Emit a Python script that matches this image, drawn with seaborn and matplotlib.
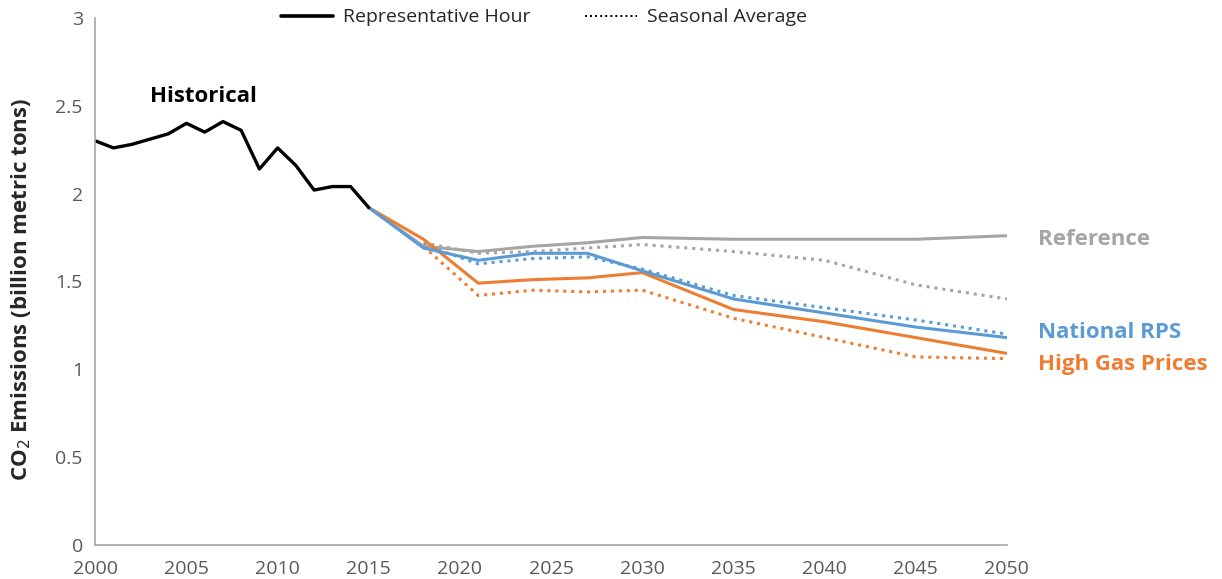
import matplotlib.pyplot as plt
import seaborn as sns
from matplotlib.lines import Line2D

sns.set_style("white")
plt.rcParams['font.family'] = ['Open Sans', 'DejaVu Sans']

# historical emissions (billion metric tons)
hist_years = list(range(2000, 2016))
hist_vals = [2.30, 2.26, 2.28, 2.31, 2.34, 2.40, 2.35, 2.41, 2.36, 2.14,
             2.26, 2.16, 2.02, 2.04, 2.04, 1.92]

# projections, representative hour
proj_years = [2015, 2018, 2021, 2024, 2027, 2030, 2035, 2040, 2045, 2050]
ref_hour = [1.92, 1.70, 1.67, 1.70, 1.72, 1.75, 1.74, 1.74, 1.74, 1.76]
rps_hour = [1.92, 1.69, 1.62, 1.66, 1.66, 1.56, 1.40, 1.32, 1.24, 1.18]
gas_hour = [1.92, 1.74, 1.49, 1.51, 1.52, 1.55, 1.34, 1.27, 1.18, 1.09]

# projections, seasonal average
seas_years = [2018, 2021, 2024, 2027, 2030, 2035, 2040, 2045, 2050]
ref_seas = [1.72, 1.66, 1.67, 1.69, 1.71, 1.67, 1.62, 1.48, 1.40]
rps_seas = [1.71, 1.60, 1.63, 1.64, 1.57, 1.42, 1.35, 1.28, 1.20]
gas_seas = [1.70, 1.42, 1.45, 1.44, 1.45, 1.29, 1.18, 1.07, 1.06]

GRAY = '#A5A5A5'
BLUE = '#5B9BD5'
ORANGE = '#ED7D31'
dots = (0, (1, 1.6))

fig = plt.figure(figsize=(12.22, 5.79), dpi=100)
ax = fig.add_axes([0.078, 0.059, 0.746, 0.91])

sns.lineplot(x=seas_years, y=ref_seas, color=GRAY, lw=2.2, linestyle=dots, ax=ax)
sns.lineplot(x=seas_years, y=gas_seas, color=ORANGE, lw=2.2, linestyle=dots, ax=ax)
sns.lineplot(x=seas_years, y=rps_seas, color=BLUE, lw=2.2, linestyle=dots, ax=ax)
sns.lineplot(x=proj_years, y=ref_hour, color=GRAY, lw=2.2, ax=ax)
sns.lineplot(x=proj_years, y=gas_hour, color=ORANGE, lw=2.2, ax=ax)
sns.lineplot(x=proj_years, y=rps_hour, color=BLUE, lw=2.2, ax=ax)
sns.lineplot(x=hist_years, y=hist_vals, color='black', lw=2.4, ax=ax)

ax.set_xlim(2000, 2050)
ax.set_ylim(0, 3)
ax.set_xticks(range(2000, 2051, 5))
ax.set_yticks([0, 0.5, 1, 1.5, 2, 2.5, 3])
ax.set_yticklabels(['0', '0.5', '1', '1.5', '2', '2.5', '3'])
ax.tick_params(length=0, labelsize=14, colors='#595959')
ax.tick_params(axis='x', pad=11)
ax.tick_params(axis='y', pad=9)
for s in ['top', 'right']:
    ax.spines[s].set_visible(False)
for s in ['left', 'bottom']:
    ax.spines[s].set_color('#A6A6A6')
    ax.spines[s].set_linewidth(1.2)

ax.set_ylabel('CO$_2$ Emissions (billion metric tons)', fontsize=16,
              fontweight='bold', labelpad=14)
ax.yaxis.set_label_coords(-0.068, 0.485)

ax.text(2003, 2.52, 'Historical', fontsize=16, fontweight='bold', color='black')
ax.text(1.034, 1.74, 'Reference', transform=ax.get_yaxis_transform(),
        fontsize=16, fontweight='bold', color=GRAY, va='center', clip_on=False)
ax.text(1.034, 1.21, 'National RPS', transform=ax.get_yaxis_transform(),
        fontsize=16, fontweight='bold', color=BLUE, va='center', clip_on=False)
ax.text(1.034, 1.025, 'High Gas Prices', transform=ax.get_yaxis_transform(),
        fontsize=16, fontweight='bold', color=ORANGE, va='center', clip_on=False)

handles = [Line2D([], [], color='black', lw=2.6),
           Line2D([], [], color='black', lw=1.4, linestyle=dots)]
fig.legend(handles, ['Representative Hour', 'Seasonal Average'], loc='center',
           bbox_to_anchor=(0.445, 0.97), ncol=2, frameon=False, fontsize=14,
           handlelength=2.7, handletextpad=0.5, columnspacing=2.8)

fig.savefig('out.png', dpi=100)
